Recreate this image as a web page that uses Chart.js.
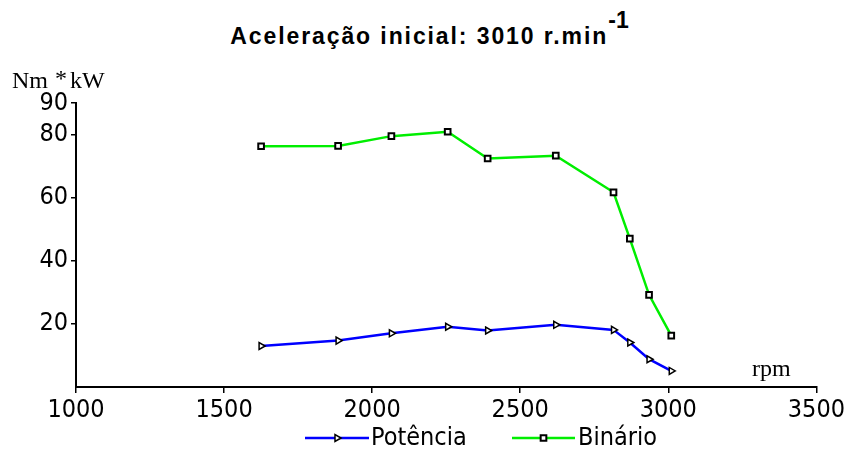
<!DOCTYPE html>
<html>
<head>
<meta charset="utf-8">
<script src="https://cdn.jsdelivr.net/npm/chart.js@4"></script>
<style>
    html, body { margin: 0; padding: 0; background: #fff; }
    #wrap { position: relative; width: 847px; height: 461px; }
    #title {
        position: absolute; left: 0; top: 25px; width: 847px;
        text-align: center; font: bold 23px 'Liberation Sans', Arial, sans-serif;
        line-height: 23px; letter-spacing: 1.9px; color: #000; padding-left: 12px; box-sizing: border-box;
    }
    #title sup { font-size: 23px; position: relative; top: -5px; vertical-align: top; line-height: 0; letter-spacing: 0; }
    canvas { position: absolute; left: 0; top: 0; }
</style>
</head>
<body>
<div id="wrap">
    <div id="title">Aceleração inicial: 3010 r.min<sup>-1</sup></div>
    <canvas id="chart" width="847" height="461"></canvas>
</div>
<script>
// rpm
const rpm = [1625, 1885, 2065, 2255, 2390, 2620, 2815, 2870, 2935, 3010];
// Binário (Nm) and Potência (kW)
const binario = [76.3, 76.4, 79.5, 80.9, 72.4, 73.3, 61.7, 47.0, 29.2, 16.3];
const potencia = [13.0, 14.7, 17.0, 19.1, 17.9, 19.7, 18.1, 14.1, 8.8, 5.1];

const xTicks = [1000, 1500, 2000, 2500, 3000, 3500];
const yTicks = [20, 40, 60, 80, 90];

const tickFont = { family: "'Liberation Sans Narrow', 'DejaVu Sans Condensed', sans-serif", size: 25 };
const serifFont = "24px 'Liberation Serif', 'DejaVu Serif', serif";

const toXY = (vals) => rpm.map((r, i) => ({ x: r, y: vals[i] }));

// axis captions and the legend (line + marker + label)
const extras = {
    id: 'extras',
    afterDraw(chart) {
        const ctx = chart.ctx;
        ctx.save();
        ctx.fillStyle = '#000';
        ctx.font = serifFont;
        ctx.textBaseline = 'alphabetic';
        ctx.fillText('Nm', 12, 88);
        ctx.fillText('*', 55, 86);
        ctx.fillText('kW', 70, 88);
        ctx.fillText('rpm', 752, 376);

        const items = [
            { ds: chart.data.datasets[0], x0: 305, x1: 369, tx: 371 },
            { ds: chart.data.datasets[1], x0: 512, x1: 575, tx: 578 }
        ];
        const ly = 438;
        items.forEach(it => {
            ctx.strokeStyle = it.ds.borderColor;
            ctx.lineWidth = it.ds.borderWidth;
            ctx.beginPath();
            ctx.moveTo(it.x0, ly);
            ctx.lineTo(it.x1, ly);
            ctx.stroke();
            ctx.fillStyle = it.ds.pointBackgroundColor;
            ctx.strokeStyle = it.ds.pointBorderColor;
            ctx.lineWidth = it.ds.pointBorderWidth;
            Chart.helpers.drawPoint(ctx, {
                pointStyle: it.ds.pointStyle,
                rotation: it.ds.pointRotation || 0,
                radius: it.ds.pointRadius,
                borderWidth: it.ds.pointBorderWidth
            }, (it.x0 + it.x1) / 2, ly);
            ctx.fillStyle = '#000';
            ctx.font = tickFont.size + 'px ' + tickFont.family;
            ctx.textBaseline = 'middle';
            ctx.fillText(it.ds.label, it.tx, ly);
        });
        ctx.restore();
    }
};

new Chart(document.getElementById('chart'), {
    type: 'line',
    data: {
        datasets: [
            {
                label: 'Potência',
                data: toXY(potencia),
                borderColor: '#0000ff',
                borderWidth: 2.5,
                pointStyle: 'triangle',
                pointRotation: 90,
                pointRadius: 4,
                pointBorderColor: '#000',
                pointBackgroundColor: '#fff',
                pointBorderWidth: 1.5,
                tension: 0
            },
            {
                label: 'Binário',
                data: toXY(binario),
                borderColor: '#00ee00',
                borderWidth: 2.5,
                pointStyle: 'rect',
                pointRadius: 4,
                pointBorderColor: '#000',
                pointBackgroundColor: '#fff',
                pointBorderWidth: 2,
                tension: 0
            }
        ]
    },
    options: {
        responsive: false,
        animation: false,
        layout: { padding: { top: 103, right: 29, left: 0, bottom: 0 } },
        plugins: { legend: { display: false }, title: { display: false }, tooltip: { enabled: false } },
        scales: {
            x: {
                type: 'linear', min: 1000, max: 3500,
                afterBuildTicks: (s) => { s.ticks = xTicks.map(v => ({ value: v })); },
                afterFit: (s) => { s.height = 74; },
                border: { color: '#000', width: 2 },
                grid: { drawOnChartArea: false, color: '#000', lineWidth: 1.5, tickLength: 6 },
                ticks: { color: '#000', font: tickFont, padding: 2, maxRotation: 0, callback: (v) => String(v) }
            },
            y: {
                type: 'linear', min: 0, max: 90,
                afterBuildTicks: (s) => { s.ticks = yTicks.map(v => ({ value: v })); },
                afterFit: (s) => { s.width = 76; },
                border: { color: '#000', width: 2 },
                grid: { drawOnChartArea: false, color: '#000', lineWidth: 1.5, tickLength: 5 },
                ticks: { color: '#000', font: tickFont, padding: 3, callback: (v) => String(v) }
            }
        }
    },
    plugins: [extras]
});
</script>
</body>
</html>
